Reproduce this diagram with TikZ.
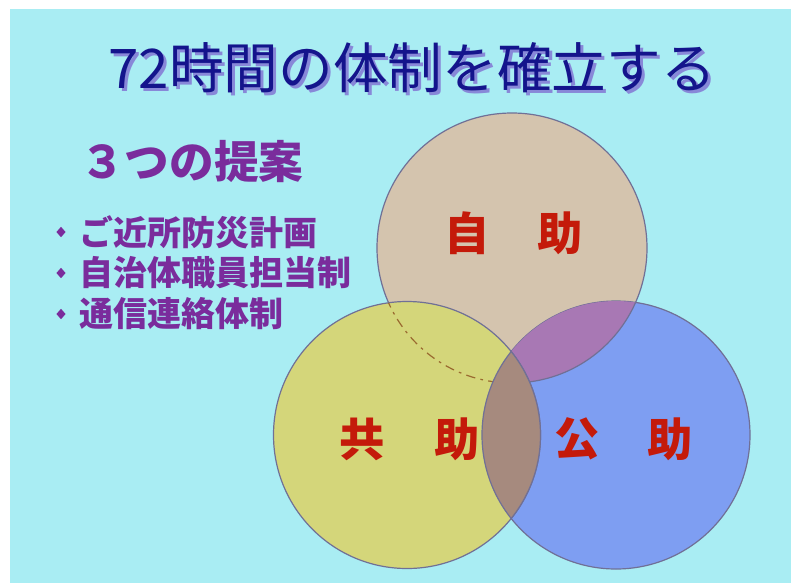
\documentclass[tikz,border=0pt]{standalone}
\usepackage{fontspec}
\newfontfamily\jp{Noto Sans CJK JP}
\usetikzlibrary{shapes.geometric}
\definecolor{bgcyan}{HTML}{A9EDF3}
\definecolor{tan}{HTML}{D4C4AE}
\definecolor{yel}{HTML}{D4D67A}
\definecolor{blu}{HTML}{7E9EF2}
\definecolor{pur}{HTML}{A878B4}
\definecolor{brn}{HTML}{A68A7E}
\definecolor{edge}{HTML}{707096}
\definecolor{navy}{HTML}{14148C}
\definecolor{shade}{HTML}{8888D8}
\definecolor{violet}{HTML}{7A2C9C}
\definecolor{redtxt}{HTML}{C41A0A}
\definecolor{dashc}{HTML}{9A6A30}
\tikzset{
  ring/.style={draw=edge, line width=0.9pt},
  redlabel/.style={text=redtxt, font=\jp\bfseries\fontsize{34pt}{34pt}\selectfont, inner sep=0pt},
  itemtext/.style={text=violet, font=\jp\bfseries\fontsize{25.5pt}{25.5pt}\selectfont, anchor=west, inner sep=0pt},
  bulletmark/.style={diamond, fill=violet, inner sep=0pt, minimum width=7pt, minimum height=8pt},
}
\newcommand{\shadowtext}[1]{\rlap{\hspace{2.3pt}\raisebox{-2.3pt}{\textcolor{shade}{#1}}}\textcolor{navy}{#1}}
\begin{document}
\begin{tikzpicture}[x=0.75pt,y=-0.75pt]
\useasboundingbox (0,0) rectangle (793,583);
\fill[white] (0,0) rectangle (793,583);
\fill[bgcyan] (10,9) rectangle (791,583);
% circles
\def\topc{(512,248) circle[radius=135]}
\def\leftc{(407,435) circle[radius=133.5]}
\def\rightc{(616,435) circle[radius=134]}
\fill[tan] \topc;
\draw[ring] \topc;
\fill[blu] \rightc;
\draw[ring] \rightc;
\begin{scope}
  \clip \rightc;
  \fill[pur] \topc;
  \draw[ring] \topc;
\end{scope}
\fill[yel] \leftc;
\draw[ring] \leftc;
\begin{scope}
  \clip \leftc;
  \draw[dashc, line width=0.9pt, dash pattern=on 7pt off 4pt on 2pt off 4pt] \topc;
\end{scope}
\begin{scope}
  \clip \leftc;
  \fill[brn] \rightc;
  \draw[ring] \rightc;
\end{scope}
\begin{scope}
  \clip \rightc;
  \draw[ring] \leftc;
\end{scope}
% title
\node[font=\jp\fontsize{41pt}{41pt}\selectfont, inner sep=0pt] (title) at (412,69) {\shadowtext{72時間の体制を確立する}};
% left texts
\node[text=violet, font=\jp\bfseries\fontsize{33.5pt}{33.5pt}\selectfont, anchor=west, inner sep=0pt] (proposal) at (80,162) {３つの提案};
\node[bulletmark] (b1) at (61,232) {};
\node[bulletmark] (b2) at (61,273) {};
\node[bulletmark] (b3) at (61,314) {};
\node[itemtext] (t1) at (79,232) {ご近所防災計画};
\node[itemtext] (t2) at (79,273) {自治体職員担当制};
\node[itemtext] (t3) at (79,314) {通信連絡体制};
% labels
\node[redlabel] (ji) at (467,233) {自};
\node[redlabel] (jo1) at (560,233) {助};
\node[redlabel] (kyo) at (362,439) {共};
\node[redlabel] (jo2) at (457,439) {助};
\node[redlabel] (ko) at (577,439) {公};
\node[redlabel] (jo3) at (670,439) {助};
\end{tikzpicture}
\end{document}
